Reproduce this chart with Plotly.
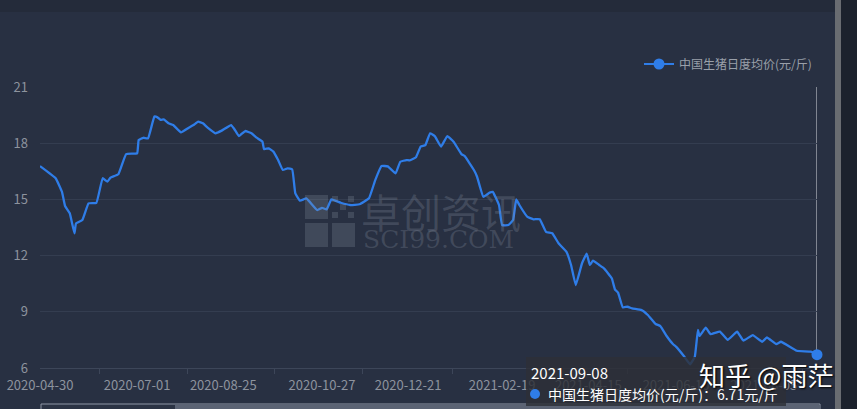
import plotly.graph_objects as go
import pandas as pd

# ---- data ----
start_date = "2020-04-30"
day_offsets = [0, 10, 14, 16, 19, 22, 23, 27, 31, 36, 40, 43, 45, 50, 55, 62, 63, 66, 69, 73, 75,
               77, 79, 82, 85, 90, 95, 98, 101, 104, 107, 112, 116, 122, 124, 127, 131, 135, 138,
               142, 143, 146, 149, 152, 155, 158, 161, 163, 166, 170, 177, 180, 183, 186, 192, 198,
               204, 210, 214, 218, 222, 227, 230, 234, 236, 240, 243, 246, 249, 252, 256, 260, 264,
               269, 271, 277, 279, 283, 287, 289, 293, 295, 299, 302, 304, 306, 311, 315, 319, 323,
               327, 331, 336, 339, 342, 346, 349, 351, 353, 357, 360, 365, 367, 369, 372, 375, 378,
               384, 388, 393, 396, 400, 404, 406, 411, 415, 418, 420, 421, 425, 428, 434, 439, 445,
               449, 455, 461, 464, 470, 473, 483, 492, 496]
prices = [16.78, 16.13, 15.41, 14.65, 14.26, 13.19, 13.72, 13.90, 14.79, 14.82, 16.13, 15.95, 16.16,
          16.34, 17.42, 17.46, 18.17, 18.29, 18.26, 19.42, 19.38, 19.24, 19.27, 19.06, 18.97, 18.58,
          18.83, 18.97, 19.15, 19.06, 18.83, 18.53, 18.67, 18.97, 18.76, 18.38, 18.65, 18.53, 18.31,
          18.08, 17.69, 17.72, 17.55, 17.10, 16.57, 16.66, 16.60, 15.32, 14.93, 15.05, 14.43, 14.55,
          14.47, 15.00, 14.82, 14.70, 14.74, 15.06, 16.03, 16.78, 16.76, 16.39, 17.01, 17.10, 17.08,
          17.25, 17.82, 17.90, 18.53, 18.38, 17.82, 18.38, 18.08, 17.42, 17.32, 16.57, 16.21, 15.14,
          15.36, 15.40, 14.70, 13.63, 13.63, 13.90, 15.00, 14.70, 14.08, 13.94, 13.94, 13.27, 13.19,
          12.66, 12.21, 11.50, 10.43, 11.59, 12.10, 11.50, 11.73, 11.50, 11.32, 10.79, 10.20, 10.02,
          9.24, 9.27, 9.18, 9.09, 8.83, 8.35, 8.24, 7.71, 7.28, 7.14, 6.64, 6.20, 6.60, 8.03, 7.71,
          8.15, 7.81, 7.94, 7.50, 7.94, 7.46, 7.76, 7.40, 7.63, 7.28, 7.40, 6.92, 6.87, 6.71]
dates = [pd.Timestamp(start_date) + pd.Timedelta(days=d) for d in day_offsets]

x_tick_labels = ["2020-04-30", "2020-07-01", "2020-08-25", "2020-10-27", "2020-12-21",
                 "2021-02-19", "2021-04-15", "2021-06-10", "2021-08-05"]
x_minor_ticks = ["2020-06-07", "2020-08-02", "2020-09-27", "2020-11-22", "2021-01-18",
                 "2021-03-15", "2021-05-10", "2021-07-05", "2021-08-30"]
y_ticks = [6, 9, 12, 15, 18, 21]
series_name = "中国生猪日度均价(元/斤)"
unit = "元/斤"

# ---- layout helpers ----
W, H = 857, 409
L, R, T, B = 40, 40, 87, 41
PW, PH = W - L - R, H - T - B


def px(x):
    return (x - L) / PW


def py(y):
    return (H - B - y) / PH


BG = "#283042"
LINE = "#2f7de8"
FONT = "Noto Sans CJK SC, Microsoft YaHei, sans-serif"

fig = go.Figure()
fig.add_trace(go.Scatter(
    x=dates, y=prices, mode="lines", name=series_name,
    line=dict(color=LINE, width=2.3, shape="spline", smoothing=0.3),
    showlegend=False, hoverinfo="skip"))
# legend entry
fig.add_trace(go.Scatter(
    x=[None], y=[None], mode="lines+markers", name=series_name,
    line=dict(color=LINE, width=2), marker=dict(color=LINE, size=11)))
# highlighted last point
fig.add_trace(go.Scatter(
    x=[dates[-1]], y=[prices[-1]], mode="markers", showlegend=False, cliponaxis=False,
    marker=dict(color=LINE, size=11, line=dict(width=0)), hoverinfo="skip"))

shapes = []
# top strip and right scroll bar (page chrome)
shapes.append(dict(type="rect", xref="paper", yref="paper", x0=px(0), x1=px(836), y0=py(0), y1=py(12),
                   fillcolor="#242b3a", line=dict(width=0), layer="below"))
shapes.append(dict(type="rect", xref="paper", yref="paper", x0=px(835), x1=px(841), y0=py(0), y1=py(409),
                   fillcolor="#696c71", line=dict(width=0)))
shapes.append(dict(type="rect", xref="paper", yref="paper", x0=px(841), x1=px(857), y0=py(0), y1=py(409),
                   fillcolor="#1c222d", line=dict(width=0)))
# cursor line at last date
shapes.append(dict(type="line", xref="x", yref="paper", x0=dates[-1], x1=dates[-1], y0=py(357), y1=1,
                   line=dict(color="#d8dbe0", width=1), layer="below"))
# data zoom slider
shapes.append(dict(type="rect", xref="paper", yref="paper", x0=px(41), x1=px(820), y0=py(404), y1=py(412),
                   fillcolor="#2b3344", line=dict(color="#8e96a5", width=1)))
shapes.append(dict(type="rect", xref="paper", yref="paper", x0=px(175), x1=px(819), y0=py(405), y1=py(412),
                   fillcolor="#5b6374", line=dict(width=0)))
# watermark logo squares
wm = "rgba(130,140,155,0.28)"
for (x0, y0, x1, y1) in [(305, 195, 328, 219), (305, 223, 328, 247), (332, 223, 355, 247)]:
    shapes.append(dict(type="rect", xref="paper", yref="paper", x0=px(x0), x1=px(x1), y0=py(y0), y1=py(y1),
                       fillcolor=wm, line=dict(width=0)))
for i in range(3):
    for j in range(3):
        if (i + j) % 2 == 0:
            shapes.append(dict(type="rect", xref="paper", yref="paper",
                               x0=px(332 + j * 8), x1=px(338 + j * 8), y0=py(196 + i * 8), y1=py(202 + i * 8),
                               fillcolor=wm, line=dict(width=0)))
# tooltip box
shapes.append(dict(type="rect", xref="paper", yref="paper", x0=px(526), x1=px(786), y0=py(357), y1=py(406),
                   fillcolor="rgba(45,48,55,0.82)", line=dict(width=0), layer="above"))
shapes.append(dict(type="circle", xref="paper", yref="paper", x0=px(530), x1=px(540), y0=py(389), y1=py(399),
                   fillcolor=LINE, line=dict(width=0), layer="above"))

annotations = [
    dict(text="卓创资讯", xref="paper", yref="paper", x=px(359), y=py(211), xanchor="left", yanchor="middle",
         showarrow=False, font=dict(family=FONT, size=40, color=wm)),
    dict(text="SCI99.COM", xref="paper", yref="paper", x=px(361), y=py(239), xanchor="left", yanchor="middle",
         showarrow=False, font=dict(family="DejaVu Serif, serif", size=25, color=wm)),
    dict(text=dates[-1].strftime("%Y-%m-%d"), xref="paper", yref="paper", x=px(529), y=py(372),
         xanchor="left", yanchor="middle", showarrow=False, font=dict(family=FONT, size=15, color="#ffffff")),
    dict(text=f"{series_name}：{prices[-1]:.2f}{unit}", xref="paper", yref="paper", x=px(546), y=py(394),
         xanchor="left", yanchor="middle", showarrow=False, font=dict(family=FONT, size=14, color="#ffffff")),
    dict(text="知乎 @雨茫", xref="paper", yref="paper", x=px(697), y=py(374), xanchor="left", yanchor="middle",
         showarrow=False, font=dict(family=FONT, size=26, color="#ffffff", shadow="1px 1px 2px #000000")),
]

fig.update_layout(
    width=W, height=H,
    margin=dict(l=L, r=R, t=T, b=B, pad=0, autoexpand=False),
    paper_bgcolor=BG, plot_bgcolor=BG,
    font=dict(family=FONT, size=12, color="#8d939e"),
    showlegend=True,
    legend=dict(x=1.0, xanchor="right", y=py(64), yanchor="middle", bgcolor="rgba(0,0,0,0)",
                font=dict(family=FONT, size=12, color="#9aa0aa"), itemwidth=30),
    shapes=shapes, annotations=annotations,
    hovermode=False,
)
fig.update_xaxes(
    type="date", range=[dates[0], dates[-1]], automargin=False,
    tickmode="array", tickvals=x_tick_labels, ticktext=x_tick_labels,
    ticks="", showgrid=False, zeroline=False,
    showline=True, linecolor="#3d4659", linewidth=1, ticklabelstandoff=5,
    tickfont=dict(size=13, color="#8d939e"),
    minor=dict(tickmode="array", tickvals=x_minor_ticks, ticks="outside", ticklen=5,
               tickcolor="#3d4659", showgrid=False),
)
fig.update_yaxes(
    range=[6, 21], tickmode="array", tickvals=y_ticks, automargin=False,
    showgrid=True, gridcolor="#343d50", gridwidth=1, zeroline=False,
    showline=False, ticks="", ticklabelstandoff=11,
    tickfont=dict(size=13, color="#8d939e"),
)

fig.write_html("out.html", config={"displayModeBar": False},
               post_script="document.body.style.margin='0';")
